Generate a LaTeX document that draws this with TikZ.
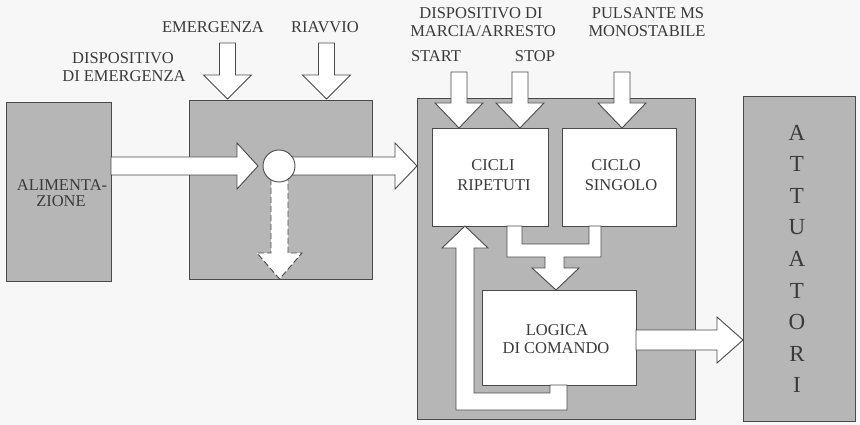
\documentclass[tikz,border=0pt]{standalone}
\usepackage{fontspec}
\setmainfont{Liberation Serif}
\usepackage{xcolor}
\definecolor{boxgray}{HTML}{B6B6B6}
\definecolor{edge}{HTML}{4A4A4A}
\definecolor{ink}{HTML}{3A3A3A}
\definecolor{paper}{HTML}{F7F7F7}
\tikzset{
  gbox/.style={draw=edge, fill=boxgray, line width=0.9pt, inner sep=0pt, outer sep=0pt},
  wbox/.style={draw=edge, fill=white, line width=0.9pt, inner sep=0pt, outer sep=0pt},
  barrow/.style={draw=edge, fill=white, line width=0.9pt, line join=miter},
  lbl/.style={text=ink, font=\fontsize{16.5}{18}\selectfont, anchor=base, inner sep=0pt},
  big/.style={text=ink, font=\fontsize{23}{31.6}\selectfont, align=center, inner sep=0pt},
}
\newcommand\dnarr[4]{%
  \draw[barrow] (#1-8,#2) -- (#1+8,#2) -- (#1+8,#3) -- (#1+24,#3) -- (#1,#4)
    -- (#1-24,#3) -- (#1-8,#3) -- cycle;}
\begin{document}
\begin{tikzpicture}[x=1pt,y=-1pt]
\path[use as bounding box, fill=paper] (0,0) rectangle (860,425);

% blocks
\node[gbox, minimum width=105pt, minimum height=179pt] (alim) at (58.5,191.5) {};
\node[gbox, minimum width=183pt, minimum height=179pt] (emerg) at (280.5,189.5) {};
\node[gbox, minimum width=278pt, minimum height=321pt] (ctrl) at (556,258.5) {};
\node[wbox, minimum width=116pt, minimum height=98pt] (cicli) at (490,177) {};
\node[wbox, minimum width=114pt, minimum height=98pt] (ciclo) at (619,177) {};
\node[wbox, minimum width=154pt, minimum height=95pt] (logica) at (559,337.5) {};
\node[gbox, minimum width=112pt, minimum height=325pt] (attu) at (799,258.5) {};

% block arrows
\draw[barrow] (111,157) -- (237,157) -- (237,143) -- (258,166) -- (237,189)
  -- (237,175) -- (111,175) -- cycle;
\draw[barrow] (279,157) -- (395,157) -- (395,143) -- (417,166) -- (395,189)
  -- (395,175) -- (279,175) -- cycle;
\fill[white] (271,166) -- (271,253) -- (257,253) -- (279.5,279) -- (302,253) -- (288,253) -- (288,166) -- cycle;
\draw[draw=edge, line width=0.9pt, dash pattern=on 6pt off 3pt] (271,170) -- (271,253) -- (257,253)
  -- (279.5,279) -- (302,253) -- (288,253) -- (288,170);
\node[draw=edge, fill=white, line width=0.9pt, circle, minimum size=32pt, inner sep=0pt] (sw) at (279,166) {};

\dnarr{227.5}{43}{75}{99}
\dnarr{326.5}{43}{75}{99}
\dnarr{459}{72}{103}{128}
\dnarr{520}{72}{103}{128}
\dnarr{622}{72}{103}{128}

% merge arrow from the two cycle blocks to the logic
\draw[barrow] (507,226) -- (507,257) -- (545,257) -- (545,268) -- (532,268) -- (556,290)
  -- (579,268) -- (564,268) -- (564,257) -- (601,257) -- (601,226) -- (589,226) -- (589,244)
  -- (522,244) -- (522,226) -- cycle;
% feedback arrow from logic back to repeated cycles
\draw[barrow] (465,226) -- (488,248) -- (474,248) -- (474,393) -- (550,393) -- (550,385)
  -- (567,385) -- (567,410) -- (456,410) -- (456,248) -- (442,248) -- cycle;
% output arrow
\draw[barrow] (636,330) -- (717,330) -- (717,317) -- (743,340) -- (717,363)
  -- (717,350) -- (636,350) -- cycle;

% labels
\node[lbl] (t1) at (213,33) {EMERGENZA};
\node[lbl] (t2) at (325,33) {RIAVVIO};
\node[lbl] (t3) at (123,64) {DISPOSITIVO};
\node[lbl] (t4) at (124,82) {DI EMERGENZA};
\node[lbl] (t5) at (481,19) {DISPOSITIVO DI};
\node[lbl] (t6) at (483,37) {MARCIA/ARRESTO};
\node[lbl] (t7) at (436,62) {START};
\node[lbl] (t8) at (535,62) {STOP};
\node[lbl] (t9) at (648,19) {PULSANTE MS};
\node[lbl] (t10) at (647,37) {MONOSTABILE};
\node[lbl] (t11) at (62,190) {ALIMENTA-};
\node[lbl] (t12) at (61,207) {ZIONE};
\node[lbl] (t13) at (493,171) {CICLI};
\node[lbl] (t14) at (494,191) {RIPETUTI};
\node[lbl] (t15) at (616,171) {CICLO};
\node[lbl] (t16) at (621,191) {SINGOLO};
\node[lbl] (t17) at (557,335) {LOGICA};
\node[lbl] (t18) at (556,353) {DI COMANDO};
\node[big] (t19) at (797,259) {A\\T\\T\\U\\A\\T\\O\\R\\I};
\end{tikzpicture}
\end{document}
